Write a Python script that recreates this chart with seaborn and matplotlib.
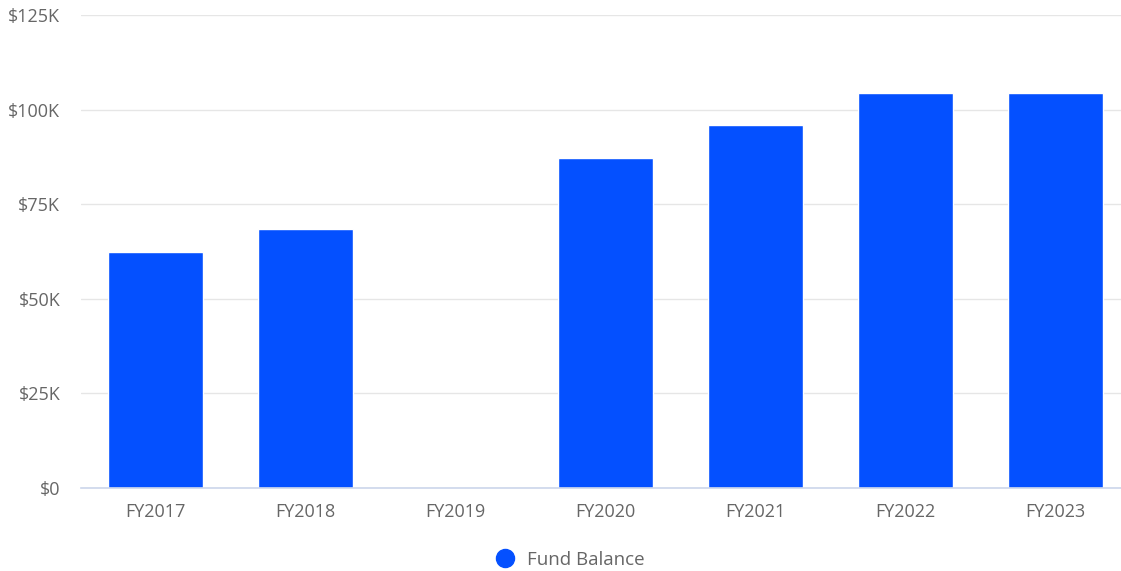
import matplotlib
matplotlib.use("Agg")
import matplotlib.pyplot as plt
import seaborn as sns
import pandas as pd
import numpy as np
from matplotlib.lines import Line2D

categories = ["FY2017", "FY2018", "FY2019", "FY2020", "FY2021", "FY2022", "FY2023"]
fund_balance = [62500, 68500, 0, 87300, 96000, 104300, 104300]
y_ticks = [0, 25000, 50000, 75000, 100000, 125000]
y_tick_labels = ["$0", "$25K", "$50K", "$75K", "$100K", "$125K"]
series_name = "Fund Balance"

sns.set_style("white")
plt.rcParams['font.family'] = ['Open Sans', 'DejaVu Sans']

df = pd.DataFrame({"cat": categories, "val": fund_balance})

fig = plt.figure(figsize=(11.21, 5.71), dpi=100)
ax = fig.add_axes([81/1121, 83/571, (1130-81)/1121, (488-15)/571])
sns.barplot(data=df, x="cat", y="val", color="#0450FF", width=0.634, ax=ax,
            saturation=1, zorder=3)
ax.set_ylim(0, 125000)
ax.set_xlim(-0.5, 6.5)
ax.set_yticks(y_ticks)
ax.set_yticklabels(y_tick_labels)
ax.set_xlabel("")
ax.set_ylabel("")
ax.grid(axis="y", color="#e6e6e6", linewidth=1, zorder=0)
for s in ["top", "right", "left"]:
    ax.spines[s].set_visible(False)
ax.spines["bottom"].set_color("#ccd6eb")
ax.spines["bottom"].set_linewidth(1.2)
ax.spines["bottom"].set_zorder(4)
ax.tick_params(axis="both", length=0, labelsize=13, colors="#666666")
ax.tick_params(axis="y", pad=15)
ax.tick_params(axis="x", pad=11)
for lbl in ax.get_yticklabels():
    lbl.set_horizontalalignment("right")

handle = Line2D([], [], marker="o", color="none", markerfacecolor="#0450FF",
                markeredgecolor="#0450FF", markersize=13)
fig.legend([handle], [series_name], loc="center", bbox_to_anchor=(570/1121, 1 - 560/571),
           frameon=False, fontsize=13.5, labelcolor="#666666", handletextpad=0.7,
           handlelength=1.0)

fig.savefig("out.png", dpi=100)
